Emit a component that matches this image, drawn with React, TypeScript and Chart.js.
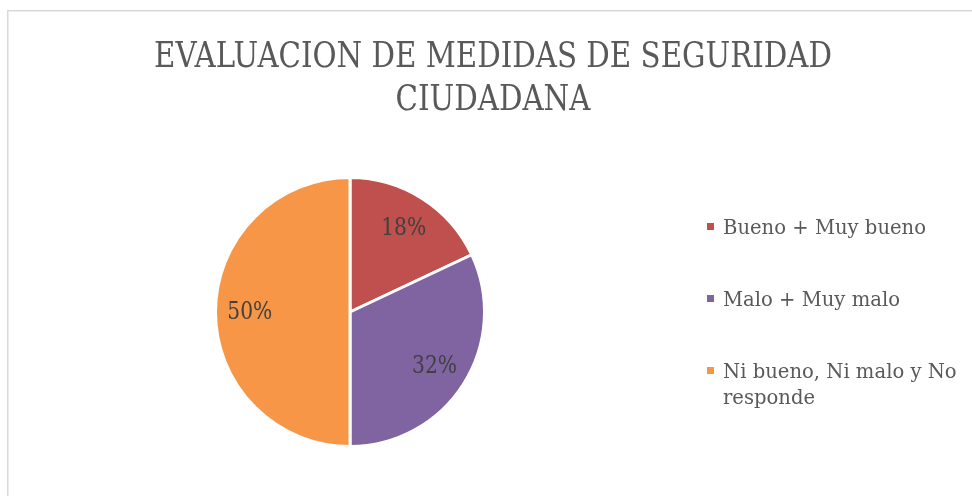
import React, { useEffect, useRef } from 'react';
import { Chart, registerables } from 'chart.js';

Chart.register(...registerables);

const categories = ['Bueno + Muy bueno', 'Malo + Muy malo', 'Ni bueno, Ni malo y No responde'];
const values = [18, 32, 50];
const sliceColors = ['#C0504D', '#8064A2', '#F79646'];
const titleLines = ['EVALUACION DE MEDIDAS DE SEGURIDAD', 'CIUDADANA'];

const SERIF = '"DejaVu Serif", "Liberation Serif", serif';

function drawText(ctx: CanvasRenderingContext2D, text: string, x: number, y: number, sx: number, align: CanvasTextAlign) {
  ctx.save();
  ctx.translate(x, y);
  ctx.scale(sx, 1);
  ctx.textAlign = align;
  ctx.fillText(text, 0, 0);
  ctx.restore();
}

const decorPlugin = {
  id: 'decor',
  beforeDraw(chart: any) {
    const ctx: CanvasRenderingContext2D = chart.ctx;
    ctx.save();
    ctx.fillStyle = '#FFFFFF';
    ctx.fillRect(0, 0, chart.width, chart.height);
    ctx.strokeStyle = '#D9D9D9';
    ctx.lineWidth = 1.5;
    ctx.strokeRect(7.75, 10.75, 1200, 1200);
    ctx.restore();
  },
  afterDraw(chart: any) {
    const ctx: CanvasRenderingContext2D = chart.ctx;
    ctx.save();
    ctx.textBaseline = 'alphabetic';

    // Title
    ctx.font = `35px ${SERIF}`;
    ctx.fillStyle = '#595959';
    const tW = ctx.measureText(titleLines[0]).width;
    const sxTitle = 678 / tW;
    const titleX = 493;
    titleLines.forEach((line, i) => {
      drawText(ctx, line, titleX, 67 + i * 43, sxTitle, 'center');
    });

    // Data labels
    ctx.font = `24px ${SERIF}`;
    ctx.fillStyle = '#404040';
    ctx.textBaseline = 'middle';
    const sxLabel = 45 / ctx.measureText('18%').width;
    const meta = chart.getDatasetMeta(0);
    const total = values.reduce((a, b) => a + b, 0);
    meta.data.forEach((arc: any, i: number) => {
      const p = arc.getProps(['x', 'y', 'startAngle', 'endAngle', 'outerRadius'], true);
      const mid = (p.startAngle + p.endAngle) / 2;
      const r = p.outerRadius * 0.745;
      const lx = p.x + Math.cos(mid) * r;
      const ly = p.y + Math.sin(mid) * r + 1;
      const pct = Math.round((values[i] / total) * 100) + '%';
      drawText(ctx, pct, lx, ly, sxLabel, 'center');
    });

    // Legend
    ctx.font = `20px ${SERIF}`;
    ctx.textBaseline = 'alphabetic';
    const sxLeg = 203 / ctx.measureText(categories[0]).width;
    const legX = 723;
    const maxW = 242;
    let baseY = 234;
    categories.forEach((cat, i) => {
      const words = cat.split(' ');
      const lines: string[] = [];
      let cur = '';
      words.forEach((w) => {
        const test = cur ? cur + ' ' + w : w;
        if (ctx.measureText(test).width * sxLeg > maxW && cur) {
          lines.push(cur);
          cur = w;
        } else {
          cur = test;
        }
      });
      if (cur) lines.push(cur);
      ctx.fillStyle = sliceColors[i];
      ctx.fillRect(707, baseY - 11, 7, 7);
      ctx.fillStyle = '#595959';
      lines.forEach((ln, j) => {
        drawText(ctx, ln, legX, baseY + j * 26, sxLeg, 'left');
      });
      baseY += 72;
    });
    ctx.restore();
  },
};

export default function App() {
  const canvasRef = useRef<HTMLCanvasElement | null>(null);

  useEffect(() => {
    if (!canvasRef.current) return;
    const chart = new Chart(canvasRef.current, {
      type: 'pie',
      data: {
        labels: categories,
        datasets: [
          {
            data: values,
            backgroundColor: sliceColors,
            borderColor: '#FFFFFF',
            borderWidth: 3,
          },
        ],
      },
      options: {
        animation: false,
        responsive: false,
        maintainAspectRatio: false,
        devicePixelRatio: 1,
        layout: { padding: { left: 214, right: 486, top: 176, bottom: 48 } },
        plugins: {
          legend: { display: false },
          title: { display: false },
          tooltip: { enabled: false },
        },
      },
      plugins: [decorPlugin],
    });
    return () => chart.destroy();
  }, []);

  return (
    <div style={{ position: 'fixed', left: 0, top: 0, width: 972, height: 496, background: '#fff' }}>
      <canvas ref={canvasRef} width={972} height={496} style={{ display: 'block', width: 972, height: 496 }} />
    </div>
  );
}
